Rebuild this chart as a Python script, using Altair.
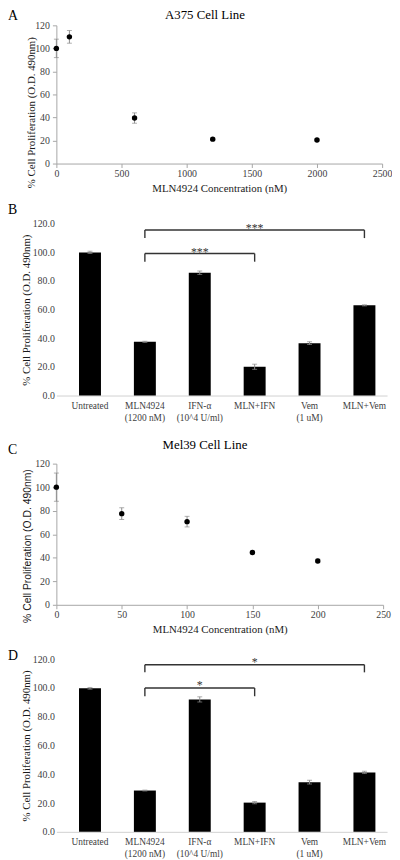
import altair as alt
import pandas as pd

SERIF = "Liberation Serif"
SANS = "Liberation Sans"
INK = "#1a1a1a"
LABEL = "#404040"
AXIS = "#a6a6a6"
BASE = "#d0d0d0"
ERR = "#8c8c8c"
BRK = "#333333"

# ---------------- data ----------------
y_ticks = [0, 20, 40, 60, 80, 100, 120]

# Panel A: A375 cell line dose response
a_conc = [0, 100, 600, 1200, 2000]
a_prolif = [100.0, 110.0, 39.5, 21.2, 20.5]
a_err = [8.0, 5.5, 4.5, 1.0, 0.8]
a_x_ticks = [0, 500, 1000, 1500, 2000, 2500]

# Panel C: Mel39 cell line dose response
c_conc = [0, 50, 100, 150, 200]
c_prolif = [100.0, 77.5, 70.7, 44.5, 37.3]
c_err = [12.0, 5.0, 4.5, 1.2, 1.5]
c_x_ticks = [0, 50, 100, 150, 200, 250]

# Panels B and D: treatments ('|' = line break in the axis label)
treatments = ["Untreated", "MLN4924|(1200 nM)", "IFN-α|(10^4 U/ml)",
              "MLN+IFN", "Vem|(1 uM)", "MLN+Vem"]
b_values = [100.0, 37.5, 85.8, 20.1, 36.6, 63.0]
b_err = [0.8, 0.4, 1.2, 1.8, 1.0, 0.4]
d_values = [99.7, 28.7, 92.0, 20.3, 34.5, 41.3]
d_err = [0.6, 0.3, 1.8, 0.8, 1.3, 0.8]

# significance brackets
b_br_start = ["MLN4924|(1200 nM)", "MLN4924|(1200 nM)"]
b_br_end = ["MLN+IFN", "MLN+Vem"]
b_br_top = [99.2, 115.6]
b_br_foot = [93.5, 110.0]
b_stars = ["***", "***"]
b_star_at = ["IFN-α|(10^4 U/ml)", "MLN+IFN"]
b_star_y = [97.8, 114.3]

d_br_start = ["MLN4924|(1200 nM)", "MLN4924|(1200 nM)"]
d_br_end = ["MLN+IFN", "MLN+Vem"]
d_br_top = [99.9, 116.1]
d_br_foot = [94.2, 110.8]
d_stars = ["*", "*"]
d_star_at = ["IFN-α|(10^4 U/ml)", "MLN+IFN"]
d_star_y = [99.0, 115.5]


def lohi(vals, errs):
    return ([v - e for v, e in zip(vals, errs)],
            [v + e for v, e in zip(vals, errs)])


def text_layer(txt, x, y, size, font=SERIF, align="left", color="black"):
    return alt.Chart(pd.DataFrame({"t": [txt]})).mark_text(
        font=font, fontSize=size, align=align, baseline="alphabetic", color=color
    ).encode(x=alt.value(x), y=alt.value(y), text="t:N")


def scatter_panel(conc, prolif, err, x_ticks, title, letter, w, h,
                  yt_font, yt_size, yt_x, yt_y, title_y, letter_y):
    lo, hi = lohi(prolif, err)
    df = pd.DataFrame({"conc": conc, "prolif": prolif, "lo": lo, "hi": hi})
    xs = alt.Scale(domain=[x_ticks[0], x_ticks[-1]], nice=False, zero=False)
    ys = alt.Scale(domain=[0, 120], nice=False)
    xa = alt.Axis(values=x_ticks, format="d", title="MLN4924 Concentration (nM)",
                  domainColor=AXIS, tickColor=AXIS, tickSize=4, labelPadding=1,
                  labelFont=SERIF, labelFontSize=10, labelColor=LABEL,
                  labelFlush=False, titleFont=SERIF, titleFontSize=11,
                  titleFontWeight="normal", titleColor=INK, titlePadding=4,
                  grid=False)
    ya = alt.Axis(values=y_ticks, format="d",
                  title="% Cell Proliferation (O.D. 490nm)",
                  domainColor=AXIS, tickColor=AXIS, tickSize=4, labelPadding=3,
                  labelFont=SERIF, labelFontSize=10, labelColor=LABEL,
                  titleFont=yt_font, titleFontSize=yt_size,
                  titleFontWeight="normal", titleColor=INK,
                  titleX=yt_x, titleY=yt_y, grid=False)

    def X(f):
        return alt.X(f"{f}:Q", scale=xs, axis=xa)

    def Y(f):
        return alt.Y(f"{f}:Q", scale=ys, axis=ya)

    base = alt.Chart(df)
    bars = base.mark_rule(color=ERR, strokeWidth=1).encode(
        x=X("conc"), y=Y("lo"), y2=alt.Y2("hi"))
    cap_hi = base.mark_tick(orient="horizontal", size=5, thickness=1,
                            color=ERR).encode(x=X("conc"), y=Y("hi"))
    cap_lo = base.mark_tick(orient="horizontal", size=5, thickness=1,
                            color=ERR).encode(x=X("conc"), y=Y("lo"))
    pts = base.mark_circle(size=30, color="black", opacity=1).encode(
        x=X("conc"), y=Y("prolif"))
    ttl = text_layer(title, 150.5, title_y, 13, align="center")
    let = text_layer(letter, -49, letter_y, 14)
    return alt.layer(bars, cap_hi, cap_lo, pts, ttl, let).properties(
        width=w, height=h)


def bar_panel(values, err, br_start, br_end, br_top, br_foot, stars, star_at,
              star_y, letter, letter_y, w, h):
    lo, hi = lohi(values, err)
    df = pd.DataFrame({"treat": treatments, "val": values, "lo": lo, "hi": hi})
    bdf = pd.DataFrame({"start": br_start, "end": br_end, "top": br_top,
                        "foot": br_foot, "stars": stars, "star_at": star_at,
                        "star_y": star_y})
    xs = alt.Scale(domain=treatments, paddingInner=0.6, paddingOuter=0.3125,
                   align=0.66)
    ys = alt.Scale(domain=[0, 120], nice=False)
    xa = alt.Axis(title=None, labelExpr="split(datum.label, '|')",
                  labelAngle=0, ticks=False, tickSize=0, domainColor=BASE,
                  labelFont=SERIF, labelFontSize=9.5, labelColor=LABEL,
                  labelPadding=5, labelLineHeight=12, labelLimit=0,
                  labelOverlap=False, grid=False)
    ya = alt.Axis(values=y_ticks, format=".1f",
                  title="% Cell Proliferation  (O.D. 490nm)", domain=False,
                  ticks=False, tickSize=0, labelPadding=2, labelFont=SERIF,
                  labelFontSize=10, labelColor=LABEL, titleFont=SERIF,
                  titleFontSize=11, titleFontWeight="normal", titleColor=INK,
                  titleX=-25, grid=False)

    def X(f):
        return alt.X(f"{f}:N", scale=xs, axis=xa)

    def Y(f):
        return alt.Y(f"{f}:Q", scale=ys, axis=ya)

    base = alt.Chart(df)
    bars = base.mark_bar(color="black").encode(x=X("treat"), y=Y("val"))
    ebar = base.mark_rule(color=ERR, strokeWidth=1).encode(
        x=X("treat"), y=Y("lo"), y2=alt.Y2("hi"))
    cap_hi = base.mark_tick(orient="horizontal", size=5, thickness=1,
                            color=ERR).encode(x=X("treat"), y=Y("hi"))
    cap_lo = base.mark_tick(orient="horizontal", size=5, thickness=1,
                            color=ERR).encode(x=X("treat"), y=Y("lo"))
    bb = alt.Chart(bdf)
    hline = bb.mark_rule(color=BRK, strokeWidth=1.4).encode(
        x=X("start"), x2=alt.X2("end"), y=Y("top"))
    leg_l = bb.mark_rule(color=BRK, strokeWidth=1.4).encode(
        x=X("start"), y=Y("foot"), y2=alt.Y2("top"))
    leg_r = bb.mark_rule(color=BRK, strokeWidth=1.4).encode(
        x=X("end"), y=Y("foot"), y2=alt.Y2("top"))
    st = bb.mark_text(font=SERIF, fontSize=12, color=BRK,
                      baseline="alphabetic").encode(
        x=X("star_at"), y=Y("star_y"), text="stars:N")
    let = text_layer(letter, -49, letter_y, 14)
    return alt.layer(bars, ebar, cap_hi, cap_lo, hline, leg_l, leg_r, st,
                     let).properties(width=w, height=h)


def spacer(h):
    return alt.Chart(pd.DataFrame({"s": [0]})).mark_point(opacity=0, size=1).encode(
        x=alt.value(0), y=alt.value(0)).properties(width=1, height=h)


pa = scatter_panel(a_conc, a_prolif, a_err, a_x_ticks, "A375 Cell Line", "A",
                   330, 140, SERIF, 11, -20, 88, -6, -5)
pb = bar_panel(b_values, b_err, b_br_start, b_br_end, b_br_top, b_br_foot,
               b_stars, b_star_at, b_star_y, "B", -10, 335, 174)
pc = scatter_panel(c_conc, c_prolif, c_err, c_x_ticks, "Mel39 Cell Line", "C",
                   331, 143, SANS, 10.5, -24, 83, -15, -10)
pd_ = bar_panel(d_values, d_err, d_br_start, d_br_end, d_br_top, d_br_foot,
                d_stars, d_star_at, d_star_y, "D", 1, 335, 175)

chart = alt.vconcat(
    pa,
    spacer(61),
    pb,
    spacer(69),
    pc,
    spacer(55),
    pd_,
    spacing=0,
    bounds="flush",
).properties(
    padding={"left": 0, "top": -4, "right": 0, "bottom": 0}
).configure_view(stroke=None)

chart.save("out.html", embed_options={"renderer": "svg", "actions": False})
